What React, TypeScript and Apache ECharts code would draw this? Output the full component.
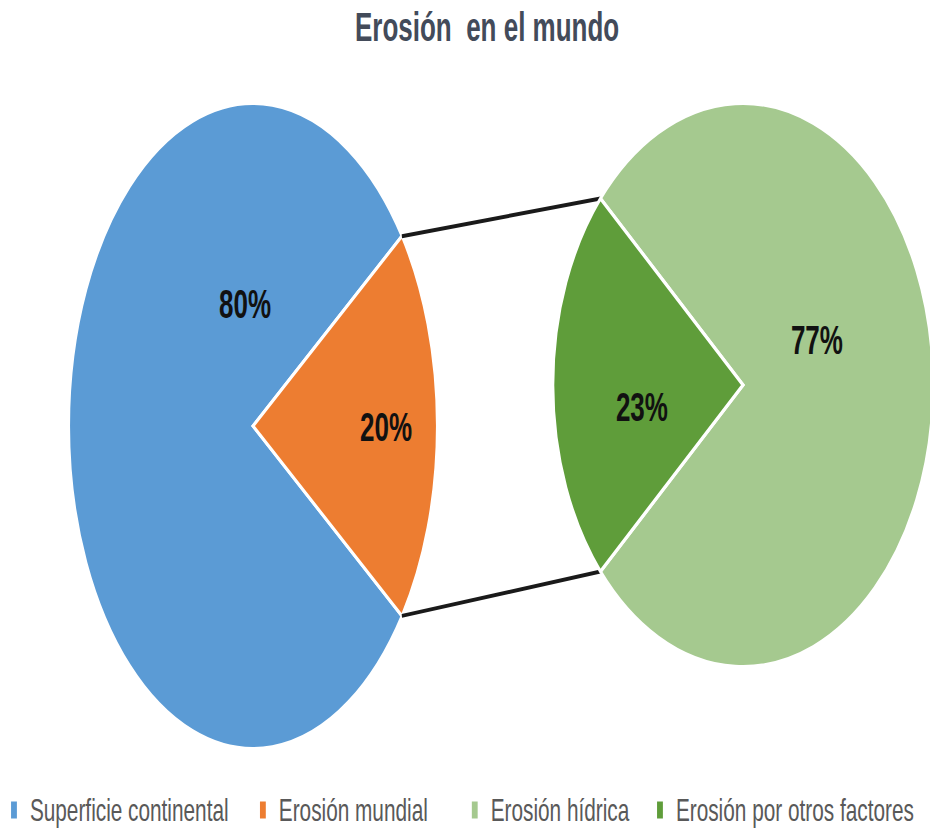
import React, { useEffect, useRef } from 'react';
import * as echarts from 'echarts';

// ---- data ----
const TITLE = 'Erosión  en el mundo';
const mainCategories = ['Superficie continental', 'Erosión mundial'];
const mainValues = [80, 20];
const subCategories = ['Erosión hídrica', 'Erosión por otros factores'];
const subValues = [77, 23];

// ---- styles ----
const mainColors = ['#5B9BD5', '#ED7D31'];
const subColors = ['#A5C98F', '#5F9D3A'];
const FONT = "'Liberation Sans', Arial, sans-serif";

// ---- layout (the whole chart is drawn on a wider canvas and condensed horizontally) ----
const VIEW_W = 930;
const VIEW_H = 829;
const INNER_W = 1431;
const SX = VIEW_W / INNER_W;
const ix = (v: number) => v / SX;

const mainPie = { cx: ix(253), cy: 426, r: 323, sx: ix(184) / 323, focus: 0 };
const subPie = { cx: ix(743), cy: 385, r: 282, sx: ix(190) / 282, focus: Math.PI };

// label placement in normalised ellipse units, relative to the pie centre
const mainLabelPos = [[-0.043, -0.378], [0.723, 0.003]];
const subLabelPos = [[0.389, -0.16], [-0.532, 0.078]];

const legendLefts = [17, 400, 726, 1011];

function sliceAngles(values: number[], centerOfLast: number) {
  const total = values.reduce((a, b) => a + b, 0);
  const fracLast = values[values.length - 1] / total;
  let a = centerOfLast - fracLast * Math.PI - 2 * Math.PI * (1 - fracLast);
  return values.map((v) => {
    const s = a;
    a += (2 * Math.PI * v) / total;
    return [s, a];
  });
}

type Pie = { cx: number; cy: number; r: number; sx: number; focus: number };

function pointOn(p: Pie, ang: number) {
  return [p.cx + p.r * p.sx * Math.cos(ang), p.cy + p.r * Math.sin(ang)];
}

const mainAngles = sliceAngles(mainValues, mainPie.focus);
const subAngles = sliceAngles(subValues, subPie.focus);
const mainTotal = mainValues.reduce((a, b) => a + b, 0);
const subTotal = subValues.reduce((a, b) => a + b, 0);

function sliceSeries(
  name: string,
  value: number,
  color: string,
  pie: Pie,
  angles: number[],
  labelPos: number[],
  total: number,
  withConnectors: boolean
) {
  return {
    type: 'custom',
    name,
    coordinateSystem: 'none',
    itemStyle: { color },
    data: [value],
    renderItem: (_params: any, api: any) => {
      const v = api.value(0);
      const pct = Math.round((v / total) * 100) + '%';
      const children: any[] = [];
      if (withConnectors) {
        const a = mainAngles[mainAngles.length - 1];
        const b = subAngles[subAngles.length - 1];
        const p1 = pointOn(mainPie, a[0]);
        const q1 = pointOn(subPie, b[1]);
        const p2 = pointOn(mainPie, a[1]);
        const q2 = pointOn(subPie, b[0]);
        children.push(
          { type: 'line', shape: { x1: p1[0], y1: p1[1], x2: q1[0], y2: q1[1] }, style: { stroke: '#1a1a1a', lineWidth: 4 } },
          { type: 'line', shape: { x1: p2[0], y1: p2[1], x2: q2[0], y2: q2[1] }, style: { stroke: '#1a1a1a', lineWidth: 4 } }
        );
      }
      children.push({
        type: 'sector',
        x: pie.cx,
        y: pie.cy,
        scaleX: pie.sx,
        scaleY: 1,
        shape: { cx: 0, cy: 0, r0: 0, r: pie.r, startAngle: angles[0], endAngle: angles[1], clockwise: true },
        style: { fill: color, stroke: '#ffffff', lineWidth: 4 },
      });
      children.push({
        type: 'text',
        x: pie.cx + pie.r * pie.sx * labelPos[0],
        y: pie.cy + pie.r * labelPos[1],
        style: {
          text: pct,
          fontFamily: FONT,
          fontSize: 40,
          fontWeight: 'bold',
          fill: '#111111',
          align: 'center',
          verticalAlign: 'middle',
        },
      });
      return { type: 'group', children };
    },
  };
}

const allNames = [...mainCategories, ...subCategories];

const option: any = {
  animation: false,
  backgroundColor: '#ffffff',
  title: {
    text: TITLE,
    left: ix(355),
    top: 7,
    padding: 0,
    textStyle: { fontFamily: FONT, fontSize: 40, fontWeight: 'bold', color: '#434B5A' },
  },
  legend: allNames.map((n, i) => ({
    data: [n],
    left: legendLefts[i],
    top: 794,
    padding: 0,
    itemWidth: 9,
    itemHeight: 17,
    icon: 'rect',
    selectedMode: false,
    textStyle: { fontFamily: FONT, fontSize: 32, color: '#595959', padding: [0, 0, 0, 15] },
  })),
  series: [
    ...mainCategories.map((n, i) =>
      sliceSeries(n, mainValues[i], mainColors[i], mainPie, mainAngles[i], mainLabelPos[i], mainTotal, false)
    ),
    ...subCategories.map((n, i) =>
      sliceSeries(n, subValues[i], subColors[i], subPie, subAngles[i], subLabelPos[i], subTotal, i === subCategories.length - 1)
    ),
  ],
};

export default function App() {
  const ref = useRef<HTMLDivElement>(null);
  useEffect(() => {
    document.body.style.margin = '0';
    const chart = echarts.init(ref.current as HTMLDivElement, null, { renderer: 'svg' });
    chart.setOption(option);
    return () => chart.dispose();
  }, []);
  return (
    <div style={{ width: VIEW_W, height: VIEW_H, overflow: 'hidden', position: 'relative', background: '#fff' }}>
      <div
        ref={ref}
        style={{ width: INNER_W, height: VIEW_H, transform: `scaleX(${SX})`, transformOrigin: '0 0' }}
      />
    </div>
  );
}
